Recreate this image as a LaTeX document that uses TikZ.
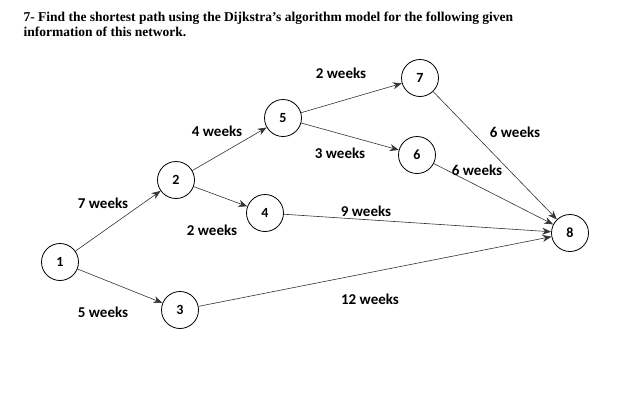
\documentclass[tikz,border=0pt]{standalone}
\usepackage{fontspec}
\setmainfont{Liberation Serif}
\newfontfamily\lab{Carlito}
\usetikzlibrary{arrows.meta}
\begin{document}
\begin{tikzpicture}[x=1pt,y=-1pt,
  nd/.style={circle,draw,thick,minimum size=37pt,inner sep=0pt,font=\lab\bfseries\fontsize{14}{14}\selectfont},
  ed/.style={draw=black!80,semithick,-{Stealth[length=9pt,width=7pt]}},
  lb/.style={font=\lab\bfseries\fontsize{15}{15}\selectfont}]
\useasboundingbox (0,0) rectangle (620,400);
\node[anchor=north west,align=left,font=\fontsize{13.5}{15}\selectfont] (t) at (20,8) {\textbf{7- Find the shortest path using the Dijkstra's algorithm model for the following given}\\\textbf{information of this network.}};
\node[nd] (n1) at (60,262) {1};
\node[nd] (n2) at (176,180) {2};
\node[nd] (n3) at (180,310) {3};
\node[nd] (n4) at (265,213) {4};
\node[nd] (n5) at (283,118) {5};
\node[nd] (n6) at (417,155) {6};
\node[nd] (n7) at (420,78) {7};
\node[nd] (n8) at (570,233) {8};
\draw[ed] (n1) -- (n2);
\draw[ed] (n1) -- (n3);
\draw[ed] (n2) -- (n5);
\draw[ed] (n2) -- (n4);
\draw[ed] (n5) -- (n7);
\draw[ed] (n5) -- (n6);
\draw[ed] (n7) -- (n8);
\draw[ed] (n6) -- (n8);
\draw[ed] (n4) -- (n8);
\draw[ed] (n3) -- (n8);
\node[lb] (l1) at (103,203) {7 weeks};
\node[lb] (l2) at (103,312) {5 weeks};
\node[lb] (l3) at (217,131) {4 weeks};
\node[lb] (l4) at (212,230) {2 weeks};
\node[lb] (l5) at (341,73) {2 weeks};
\node[lb] (l6) at (340,153) {3 weeks};
\node[lb] (l7) at (515,132) {6 weeks};
\node[lb] (l8) at (477,170) {6 weeks};
\node[lb] (l9) at (366,211) {9 weeks};
\node[lb] (l10) at (370,299) {12 weeks};
\end{tikzpicture}
\end{document}
